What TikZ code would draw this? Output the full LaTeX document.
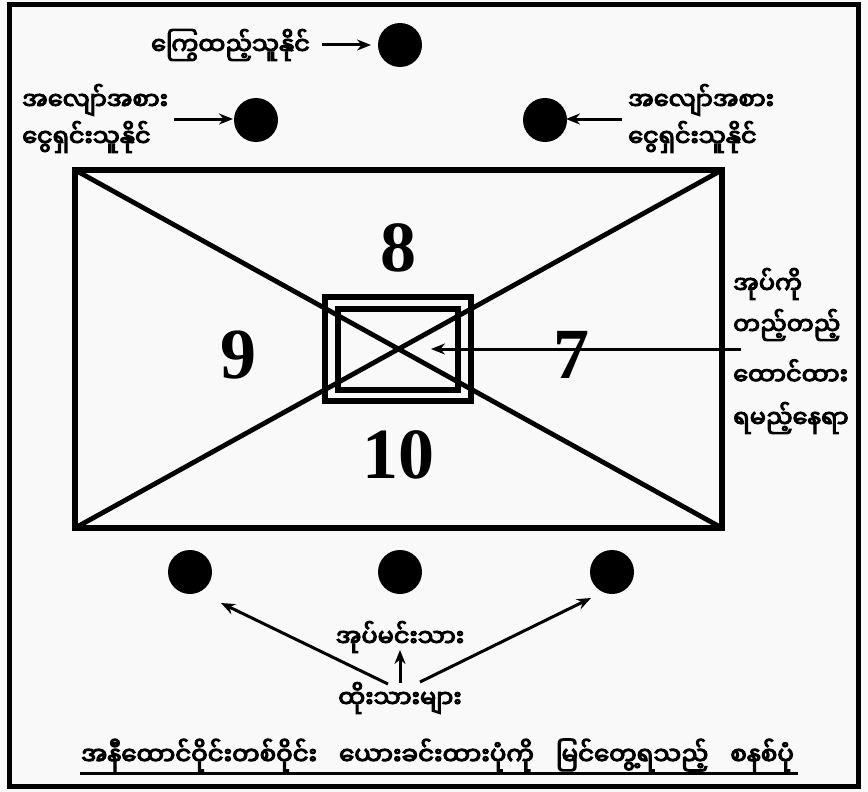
\documentclass[tikz,border=0pt]{standalone}
\usepackage{fontspec}
\setmainfont{Liberation Serif}
\newfontfamily\mm[Script=Myanmar,AutoFakeBold=4.5]{Noto Sans Myanmar UI}
\usetikzlibrary{arrows.meta}
\tikzset{
  dot/.style={circle,fill=black,minimum size=44pt,inner sep=0pt,outer sep=0pt},
  mmtext/.style={font=\mm\bfseries\fontsize{24}{28}\selectfont,inner sep=0pt},
  captext/.style={font=\mm\bfseries\fontsize{24.5}{28}\selectfont,inner sep=0pt},
  numtext/.style={font=\fontsize{72}{72}\selectfont\bfseries,inner sep=0pt},
  arr/.style={line width=3pt,-{Stealth[length=14pt,width=11pt]}},
  plainline/.style={line width=3pt},
  thickbox/.style={draw,line width=6pt,inner sep=0pt,outer sep=0pt},
}
\begin{document}
\begin{tikzpicture}[x=1pt,y=-1pt]
\useasboundingbox (0,0) rectangle (868,792);
\fill[gray!5] (0,0) rectangle (868,792);
\node[draw,line width=5pt,minimum width=849pt,minimum height=781pt,inner sep=0pt,outer sep=0pt] (frame) at (433.5,395.5) {};

% big rectangle and inner boxes
\node[thickbox,minimum width=647pt,minimum height=358pt] (big) at (398.5,349) {};
\draw[line width=4.8pt] (big.north west) -- (big.south east);
\draw[line width=4.8pt] (big.south west) -- (big.north east);
\node[thickbox,minimum width=146pt,minimum height=104pt] (box1) at (398,349) {};
\node[thickbox,minimum width=120pt,minimum height=81pt] (box2) at (398,349) {};

% numbers
\node[numtext] (n8) at (398,248) {8};
\node[numtext] (n9) at (238,355) {9};
\node[numtext] (n7) at (571,355) {7};
\node[numtext] (n10) at (398,455) {10};

% dots
\node[dot] (dtop) at (400,45) {};
\node[dot] (dleft) at (256,120) {};
\node[dot] (dright) at (545,120) {};
\node[dot] (dbl) at (190,572) {};
\node[dot] (dbm) at (400,572) {};
\node[dot] (dbr) at (612,572) {};

% top label
\node[mmtext,anchor=east] (ttop) at (310,45) {ကြွေထည့်သူနိုင်};
\coordinate (ta) at (322,45);
\coordinate (tb) at (371,45);
\draw[arr] (ta) -- (tb);

% left label
\node[mmtext,anchor=west] (l1) at (22,100) {အလျော်အစား};
\node[mmtext,anchor=west] (l2) at (22,137) {ငွေရှင်းသူနိုင်};
\coordinate (la) at (174,119);
\coordinate (lb) at (233,119);
\draw[arr] (la) -- (lb);

% right label
\node[mmtext,anchor=west] (r1) at (628,100) {အလျော်အစား};
\node[mmtext,anchor=west] (r2) at (628,137) {ငွေရှင်းသူနိုင်};
\coordinate (ra) at (622,119);
\coordinate (rb) at (566,119);
\draw[arr] (ra) -- (rb);

% right side label
\node[mmtext,anchor=west] (s1) at (733,284) {အုပ်ကို};
\node[mmtext,anchor=west] (s2) at (733,325) {တည့်တည့်};
\node[mmtext,anchor=west] (s3) at (733,372) {ထောင်ထား};
\node[mmtext,anchor=west] (s4) at (733,418) {ရမည့်နေရာ};
\coordinate (sa) at (741,349);
\coordinate (sb) at (431,349);
\draw[arr] (sa) -- (sb);

% bottom labels
\node[mmtext] (b1) at (400,637) {အုပ်မင်းသား};
\node[mmtext] (b2) at (400,698) {ထိုးသားများ};
\coordinate (va) at (400,683);
\coordinate (vb) at (400,650);
\draw[arr] (va) -- (vb);
\coordinate (bla) at (388,684);
\coordinate (blb) at (221,603);
\draw[arr] (bla) -- (blb);
\coordinate (bra) at (420,682);
\coordinate (brb) at (591,598);
\draw[arr] (bra) -- (brb);

% caption
\node[captext,anchor=west] (cap) at (81,755) {အနီထောင်ဝိုင်းတစ်ဝိုင်း\hspace{22pt}ယေားခင်းထားပုံကို\hspace{22pt}မြင်တွေ့ရသည့်\hspace{22pt}စနစ်ပုံ};
\coordinate (ua) at (80,773);
\coordinate (ub) at (798,773);
\draw[plainline] (ua) -- (ub);
\end{tikzpicture}
\end{document}
